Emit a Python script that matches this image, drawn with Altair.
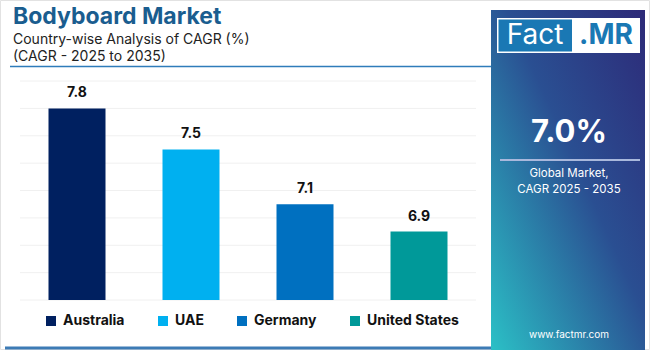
import altair as alt
import pandas as pd

# ---- data ----
countries = ["Australia", "UAE", "Germany", "United States"]
cagr = [7.8, 7.5, 7.1, 6.9]
bar_colors = ["#002060", "#00B0F0", "#0070C0", "#009999"]
grid_values = [6.4, 6.6, 6.8, 7.0, 7.2, 7.4, 7.6, 7.8, 8.0]
y_min, y_max = 6.4, 8.0

title_text = "Bodyboard Market"
subtitle_1 = "Country-wise Analysis of CAGR (%)"
subtitle_2 = "(CAGR - 2025 to 2035)"
global_value = "7.0%"
panel_line_1 = "Global Market,"
panel_line_2 = "CAGR 2025 - 2035"
website = "www.factmr.com"
logo_left = "Fact"
logo_right = ".MR"

FONT = "Inter"

df = pd.DataFrame({"country": countries, "cagr": cagr})
grid_df = pd.DataFrame({"g": grid_values})
one = alt.Data(values=[{"a": 1}])

x_enc = alt.X("country:N", sort=countries,
              scale=alt.Scale(range=[20, 476], paddingInner=0.5, paddingOuter=0.25),
              axis=None)
y_scale = alt.Scale(domain=[y_min, y_max], range=[300, 81], zero=False, nice=False)

grid = alt.Chart(grid_df).mark_rule(color="#f0f0f0", strokeWidth=1).encode(
    y=alt.Y("g:Q", scale=y_scale, axis=None),
    x=alt.value(20), x2=alt.value(476),
)

bars = alt.Chart(df).mark_bar().encode(
    x=x_enc,
    y=alt.Y("cagr:Q", scale=y_scale, axis=None),
    y2=alt.datum(y_min),
    color=alt.Color(
        "country:N", sort=countries,
        scale=alt.Scale(domain=countries, range=bar_colors),
        legend=alt.Legend(
            orient="none", legendX=44, legendY=314, direction="horizontal",
            title=None, symbolType="square", symbolSize=100, symbolStrokeWidth=0,
            labelFont=FONT, labelFontSize=14, labelFontWeight="bold",
            labelColor="#111111", columnPadding=31, labelOffset=5, padding=0,
        ),
    ),
)

labels = alt.Chart(df).mark_text(
    dy=-8, baseline="bottom", font=FONT, fontSize=14, fontWeight="bold", color="#111111"
).encode(
    x=x_enc,
    y=alt.Y("cagr:Q", scale=y_scale, axis=None),
    text=alt.Text("cagr:Q", format=".1f"),
)

def txt(text, x, y, size, color, weight="normal", align="left", font=FONT, baseline="alphabetic"):
    return alt.Chart(one).mark_text(
        align=align, baseline=baseline, font=font, fontSize=size,
        fontWeight=weight, color=color,
    ).encode(x=alt.value(x), y=alt.value(y), text=alt.value(text))

def box(x, x2, y, y2, **kw):
    return alt.Chart(one).mark_rect(**kw).encode(
        x=alt.value(x), x2=alt.value(x2), y=alt.value(y), y2=alt.value(y2))

def hline(x, x2, y, color, width):
    return alt.Chart(one).mark_rule(color=color, strokeWidth=width).encode(
        x=alt.value(x), x2=alt.value(x2), y=alt.value(y))

border = box(0.5, 649.5, 0.5, 349.5, fillOpacity=0, stroke="#e2e2e2", strokeWidth=1)

title = txt(title_text, 13, 24, 23, "#1a5d8f", weight="bold")
sub1 = txt(subtitle_1, 13, 44, 14, "#222222")
sub2 = txt(subtitle_2, 13, 61, 14, "#222222")
top_line = hline(10, 491, 66.5, "#2f7cba", 1.5)
bottom_line = hline(5, 491, 348, "#3d7bb5", 3)

panel = box(491, 645, 10, 350, color=alt.Gradient(
    gradient="linear", x1=1, y1=0, x2=0, y2=1,
    stops=[alt.GradientStop(color="#2d2a78", offset=0),
           alt.GradientStop(color="#2a4f92", offset=0.45),
           alt.GradientStop(color="#2bc0c6", offset=1)],
))

logo_bg = box(497, 640, 18, 53, color="white")
logo_blue = box(498.5, 572, 19.5, 51.5, color="#1a78b4")
logo_t1 = txt(logo_left, 535, 36, 28, "white", align="center", baseline="middle")
logo_t2 = txt(logo_right, 606, 36, 28, "#1a78b4", weight="bold", align="center", baseline="middle")

big = txt(global_value, 569, 133, 31, "white", weight="bold", align="center", baseline="middle")
sep = hline(500, 640, 160, "#a9b8dc", 2)
pl1 = txt(panel_line_1, 569, 174, 11.5, "white", align="center", baseline="middle")
pl2 = txt(panel_line_2, 569, 190, 11.5, "white", align="center", baseline="middle")
web = txt(website, 569, 335, 10, "white", align="center", baseline="middle")

chart = alt.layer(
    border, grid, bars, labels, title, sub1, sub2, top_line, bottom_line,
    panel, logo_bg, logo_blue, logo_t1, logo_t2, big, sep, pl1, pl2, web,
).properties(
    width=650, height=350, padding=0, autosize="none", background="white"
).configure_view(stroke=None)

chart.save("out.html", embed_options={"renderer": "svg", "actions": False})
